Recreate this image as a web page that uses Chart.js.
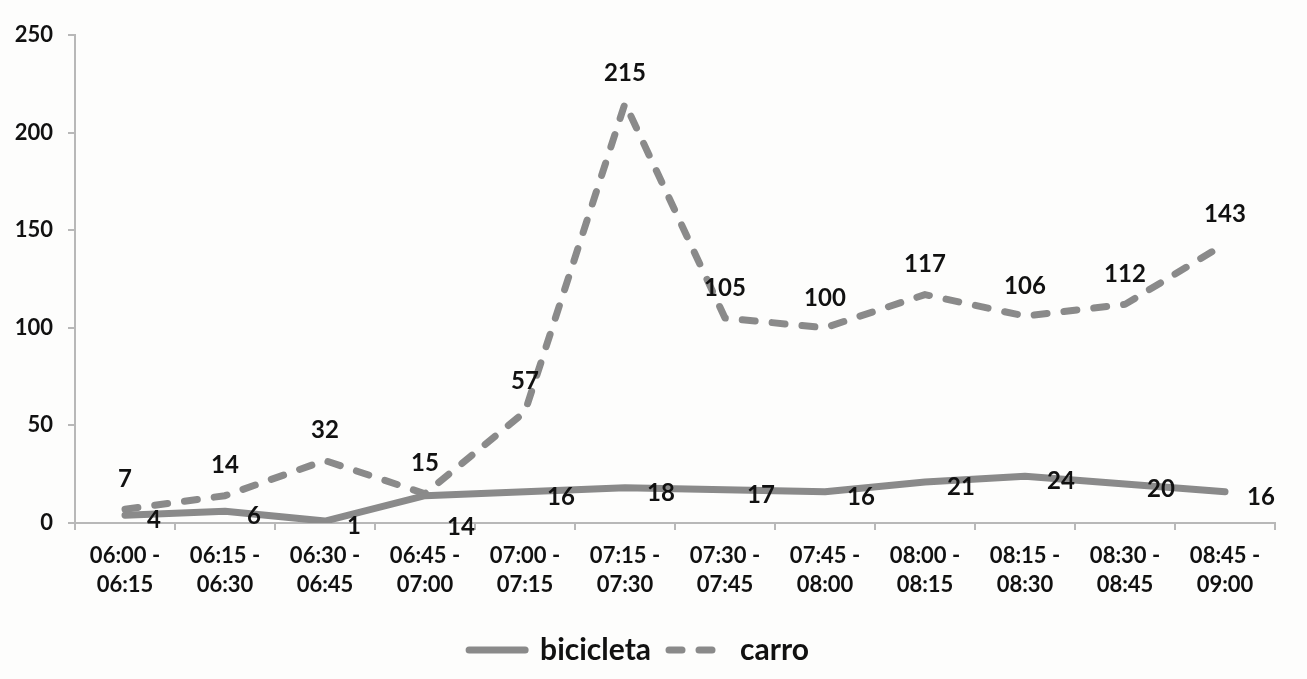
<!DOCTYPE html>
<html>
<head>
<meta charset="utf-8">
<script src="https://cdn.jsdelivr.net/npm/chart.js@4.4.0/dist/chart.umd.min.js"></script>
<style>
  html, body { margin: 0; padding: 0; background: #fdfdfc; }
  #wrap { width: 1307px; height: 679px; }
</style>
</head>
<body>
<div id="wrap"><canvas id="myChart"></canvas></div>
<script>
// Chart data
const timeSlots = [
    ['06:00 -', '06:15'], ['06:15 -', '06:30'], ['06:30 -', '06:45'], ['06:45 -', '07:00'],
    ['07:00 -', '07:15'], ['07:15 -', '07:30'], ['07:30 -', '07:45'], ['07:45 -', '08:00'],
    ['08:00 -', '08:15'], ['08:15 -', '08:30'], ['08:30 -', '08:45'], ['08:45 -', '09:00']
]
const bicicleta = [4, 6, 1, 14, 16, 18, 17, 16, 21, 24, 20, 16]
const carro = [7, 14, 32, 15, 57, 215, 105, 100, 117, 106, 112, 143]
const yTicks = [0, 50, 100, 150, 200, 250]

const lineGray = '#8a8a8a'
const axisGray = '#b8b8b8'
const fontFam = 'Lato, "Open Sans", sans-serif'

// draws the numbers next to each point (no datalabels plugin offline)
const valueLabels = {
    id: 'valueLabels',
    afterDatasetsDraw(chart) {
        const ctx = chart.ctx
        ctx.save()
        ctx.font = `bold 24px ${fontFam}`
        ctx.fillStyle = '#111'
        ctx.textBaseline = 'middle'
        chart.data.datasets.forEach((ds, i) => {
            const meta = chart.getDatasetMeta(i)
            meta.data.forEach((pt, j) => {
                const pos = ds.labelPos[j]
                const txt = String(ds.data[j])
                if (pos === 'above') {
                    ctx.textAlign = 'center'
                    ctx.fillText(txt, pt.x, pt.y - 30)
                } else if (pos === 'below') {
                    ctx.textAlign = 'left'
                    ctx.fillText(txt, pt.x + 22, pt.y + 32)
                } else {
                    ctx.textAlign = 'left'
                    ctx.fillText(txt, pt.x + 22, pt.y + 5)
                }
            })
        })
        ctx.restore()
    }
}

const ctx = document.getElementById('myChart')

new Chart(ctx, {
    type: 'line',
    data: {
        labels: timeSlots,
        datasets: [{
            label: 'bicicleta',
            data: bicicleta,
            borderColor: lineGray,
            backgroundColor: lineGray,
            borderWidth: 7,
            borderCapStyle: 'round',
            borderJoinStyle: 'round',
            pointRadius: 0,
            tension: 0,
            labelPos: ['right', 'right', 'right', 'below', 'right', 'right', 'right', 'right', 'right', 'right', 'right', 'right']
        }, {
            label: 'carro',
            data: carro,
            borderColor: lineGray,
            backgroundColor: lineGray,
            borderWidth: 7,
            borderDash: [13, 17],
            borderCapStyle: 'round',
            borderJoinStyle: 'round',
            pointRadius: 0,
            tension: 0,
            labelPos: carro.map(() => 'above')
        }]
    },
    options: {
        responsive: true,
        maintainAspectRatio: false,
        animation: false,
        layout: { padding: { left: 3, right: 32, top: 35, bottom: 4 } },
        scales: {
            x: {
                offset: true,
                grid: { display: true, drawOnChartArea: false, offset: true, tickLength: 7, color: axisGray, lineWidth: 2 },
                border: { display: true, color: axisGray, width: 2 },
                ticks: { color: '#111', font: { family: fontFam, size: 22, weight: 'bold', lineHeight: 1.3 }, padding: 12, maxRotation: 0, autoSkip: false },
                afterFit(scale) { scale.height = 94 }
            },
            y: {
                min: 0,
                max: 250,
                afterBuildTicks(scale) { scale.ticks = yTicks.map(v => ({ value: v })) },
                grid: { display: true, drawOnChartArea: false, tickLength: 7, color: axisGray, lineWidth: 2 },
                border: { display: true, color: axisGray, width: 2 },
                ticks: { color: '#111', font: { family: fontFam, size: 22, weight: 'bold' }, padding: 15 },
                afterFit(scale) { scale.width = 72 }
            }
        },
        plugins: {
            legend: {
                position: 'bottom',
                labels: {
                    usePointStyle: true,
                    pointStyle: 'line',
                    pointStyleWidth: 56,
                    color: '#111',
                    font: { family: fontFam, size: 30, weight: 'bold' },
                    padding: 18,
                    // point style legend ignores borderDash, so copy line style from datasets
                    generateLabels(chart) {
                        const items = Chart.defaults.plugins.legend.labels.generateLabels(chart)
                        return items.map(item => {
                            const ds = chart.data.datasets[item.datasetIndex]
                            item.lineDash = ds.borderDash || []
                            item.lineWidth = ds.borderWidth
                            item.lineCap = 'round'
                            item.strokeStyle = ds.borderColor
                            return item
                        })
                    }
                }
            },
            tooltip: { enabled: false }
        }
    },
    plugins: [valueLabels]
})
</script>
</body>
</html>
